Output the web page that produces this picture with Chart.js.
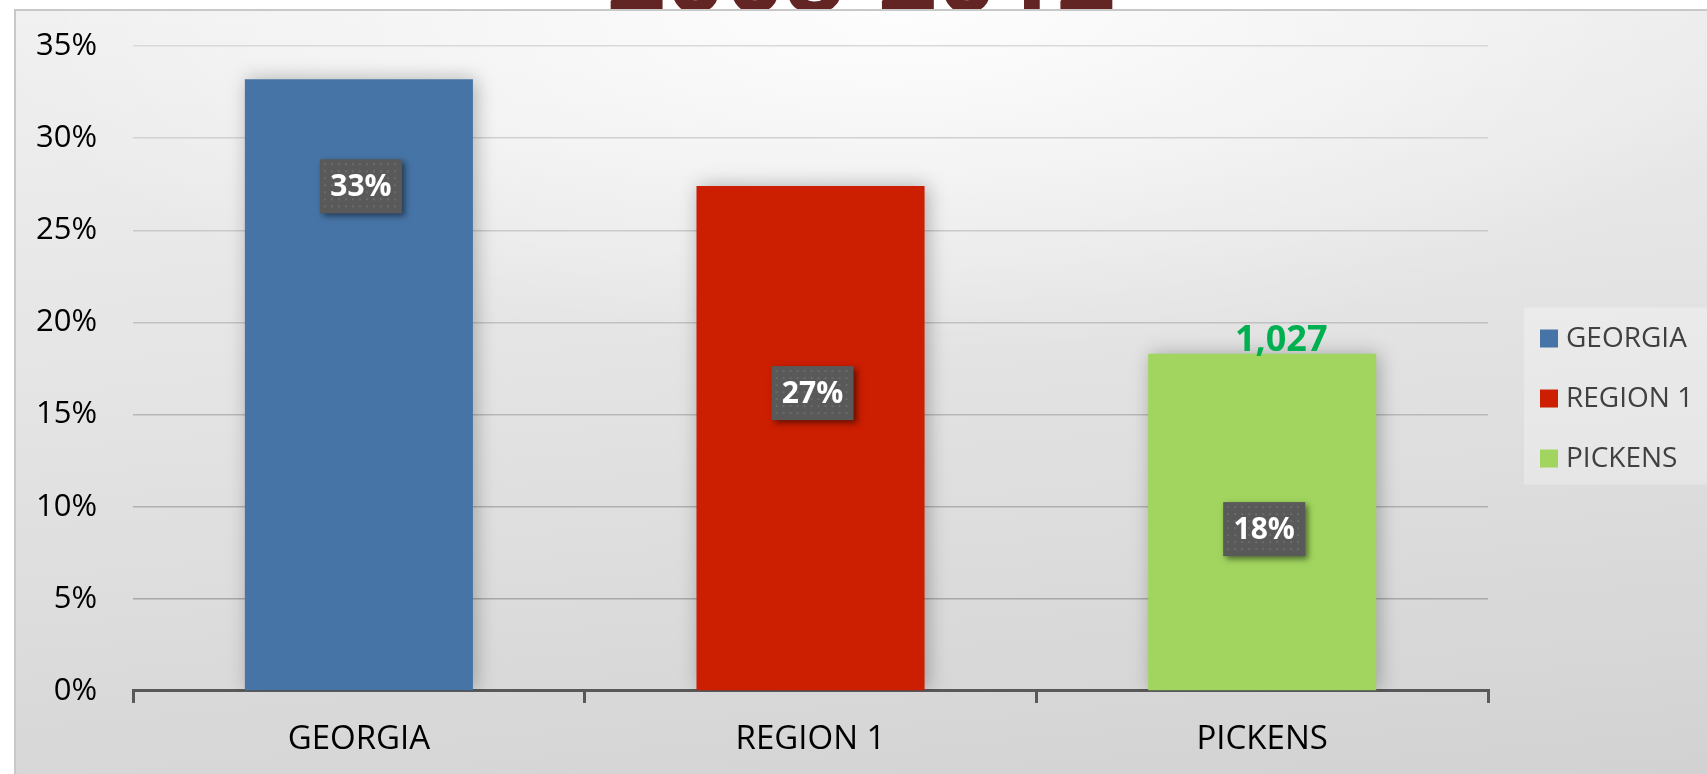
<!DOCTYPE html>
<html lang="en">
<head>
<meta charset="UTF-8">
<title>2008-2012</title>
<script src="https://cdn.jsdelivr.net/npm/chart.js@4.4.1/dist/chart.umd.min.js"></script>
<style>
  html, body { margin: 0; padding: 0; background: #fff; overflow: hidden; width: 1707px; height: 774px; }
  #title {
    position: absolute; left: 461px; width: 800px; top: -80px; margin: 0;
    text-align: center; font: bold 104px/1 'Open Sans', sans-serif; color: #632523;
  }
  #frame {
    position: absolute; left: 14px; top: 9px; right: 0; bottom: 0;
    border-top: 2px solid #c8c8c8; border-left: 2px solid #c8c8c8;
    background:
      radial-gradient(ellipse 55% 45% at 52% 0%, rgba(255,255,255,0.9), rgba(255,255,255,0) 100%),
      linear-gradient(175deg, #f0f0f0 0%, #e2e2e2 50%, #d2d2d2 100%);
  }
  #chart { position: absolute; left: 0; top: 0; }
</style>
</head>
<body>
<h1 id="title">2008-2012</h1>
<div id="frame"></div>
<canvas id="chart" width="1707" height="774"></canvas>
<script>
// data
const categories = ['GEORGIA', 'REGION 1', 'PICKENS'];
const shares = [33.2, 27.4, 18.3];
const shareLabels = ['33%', '27%', '18%'];
const countLabels = ['', '', '1,027'];
const barColors = ['#4674a6', '#cc1e00', '#a1d55f'];

const FONT = "'Open Sans', sans-serif";

// soft shadow behind the bars
const barShadow = {
  id: 'barShadow',
  beforeDatasetDraw(chart) {
    const ctx = chart.ctx;
    ctx.save();
    ctx.shadowColor = 'rgba(0,0,0,0.28)';
    ctx.shadowBlur = 18;
    ctx.shadowOffsetX = 3;
  },
  afterDatasetDraw(chart) {
    chart.ctx.restore();
  }
};

// dark boxed percent labels + green count label
const boxLabels = {
  id: 'boxLabels',
  afterDatasetsDraw(chart, args, opts) {
    const ctx = chart.ctx;
    const y = chart.scales.y;
    const data = chart.data.datasets[0].data;
    chart.getDatasetMeta(0).data.forEach((bar, i) => {
      const cx = bar.x + 2;
      const cy = y.getPixelForValue(data[i] * opts.anchors[i]);
      const w = 82, h = 54;
      ctx.save();
      ctx.shadowColor = 'rgba(0,0,0,0.5)';
      ctx.shadowBlur = 6;
      ctx.shadowOffsetX = 3;
      ctx.shadowOffsetY = 3;
      ctx.fillStyle = '#595959';
      ctx.fillRect(cx - w / 2, cy - h / 2, w, h);
      ctx.restore();
      // dotted texture
      ctx.save();
      ctx.fillStyle = '#6b6b6b';
      for (let dx = 4; dx < w - 2; dx += 7) {
        for (let dy = 4; dy < h - 2; dy += 7) {
          ctx.fillRect(cx - w / 2 + dx, cy - h / 2 + dy, 2, 2);
        }
      }
      ctx.fillStyle = '#fff';
      ctx.font = 'bold 30px ' + FONT;
      ctx.textAlign = 'center';
      ctx.textBaseline = 'middle';
      ctx.fillText(shareLabels[i], cx, cy + 1);
      if (countLabels[i]) {
        ctx.fillStyle = '#00b050';
        ctx.font = 'bold 36px ' + FONT;
        ctx.textBaseline = 'alphabetic';
        ctx.fillText(countLabels[i], bar.x + 19, bar.y - 3);
      }
      ctx.restore();
    });
  }
};

// legend box on the right
const sideLegend = {
  id: 'sideLegend',
  afterDraw(chart) {
    const ctx = chart.ctx;
    const area = chart.chartArea;
    const left = area.right + 36;
    const mid = (area.top + area.bottom) / 2 + 30;
    const pitch = 60;
    const n = chart.data.labels.length;
    ctx.save();
    ctx.fillStyle = 'rgba(255,255,255,0.28)';
    ctx.fillRect(left, mid - pitch * n / 2 - 1, chart.width - left, pitch * n - 3);
    ctx.font = '28px ' + FONT;
    ctx.textBaseline = 'middle';
    chart.data.labels.forEach((lab, i) => {
      const cy = mid + (i - (n - 1) / 2) * pitch;
      ctx.fillStyle = chart.data.datasets[0].backgroundColor[i];
      ctx.fillRect(left + 16, cy - 9, 18, 18);
      ctx.fillStyle = '#404040';
      ctx.fillText(lab, left + 42, cy + 1);
    });
    ctx.restore();
  }
};

new Chart(document.getElementById('chart'), {
  type: 'bar',
  data: {
    labels: categories,
    datasets: [{
      data: shares,
      backgroundColor: barColors,
      barPercentage: 0.505,
      categoryPercentage: 1
    }]
  },
  options: {
    responsive: false,
    animation: false,
    layout: { padding: { left: 0, right: 219, top: 0, bottom: -3 } },
    plugins: {
      legend: { display: false },
      tooltip: { enabled: false },
      boxLabels: { anchors: [0.825, 0.59, 0.48] }
    },
    scales: {
      x: {
        grid: { display: true, offset: true, drawOnChartArea: false, drawTicks: true, tickLength: 12, color: '#595959', lineWidth: 3 },
        border: { display: true, color: '#595959', width: 3 },
        ticks: { color: '#000', font: { family: FONT, size: 33, lineHeight: 0.85 }, padding: 23 }
      },
      y: {
        min: 0,
        max: 35,
        ticks: { stepSize: 5, callback: v => v + '%', color: '#000', font: { family: FONT, size: 31, lineHeight: 0.65 }, padding: 36 },
        grid: {
          // lines get darker toward the bottom of the plot
          color: c => { const g = Math.round(160 + 57 * (c.tick ? c.tick.value / 35 : 1)); return `rgb(${g},${g},${g})`; },
          lineWidth: 1.5,
          drawTicks: false
        },
        border: { display: false }
      }
    }
  },
  plugins: [barShadow, boxLabels, sideLegend]
});
</script>
</body>
</html>
